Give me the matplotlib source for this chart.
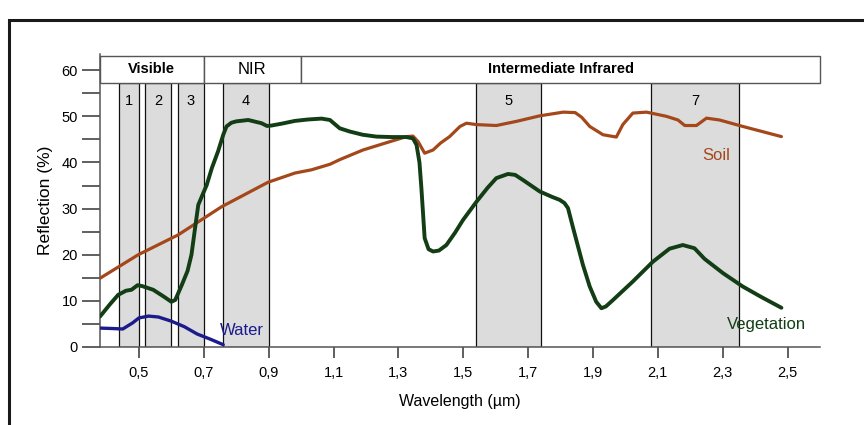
import matplotlib
matplotlib.use("Agg")
import matplotlib.pyplot as plt
from matplotlib.patches import Rectangle

plt.rcParams['font.family'] = ['Liberation Sans', 'DejaVu Sans']

# spectral curves (wavelength in µm, reflection in %)
veg_wl = [0.38, 0.41, 0.436, 0.46, 0.477, 0.496, 0.51, 0.544, 0.575, 0.60, 0.612,
          0.632, 0.65, 0.662, 0.673, 0.683, 0.695, 0.709, 0.725, 0.744, 0.760,
          0.770, 0.785, 0.80, 0.837, 0.878, 0.895, 0.909, 0.94, 0.981, 1.02,
          1.063, 1.089, 1.119, 1.15, 1.19, 1.232, 1.28, 1.325, 1.345, 1.356,
          1.365, 1.371, 1.381, 1.393, 1.407, 1.425, 1.448, 1.475, 1.499, 1.541,
          1.575, 1.602, 1.638, 1.66, 1.684, 1.736, 1.775, 1.797, 1.812, 1.823,
          1.838, 1.855, 1.869, 1.89, 1.91, 1.926, 1.94, 1.962, 2.023, 2.085,
          2.136, 2.177, 2.213, 2.244, 2.301, 2.362, 2.42, 2.481]
veg_refl = [6.6, 9.2, 11.3, 12.2, 12.4, 13.4, 13.2, 12.4, 11.0, 9.8, 10.2,
            13.4, 16.5, 20.0, 25.7, 30.8, 32.8, 35.1, 38.8, 42.4, 46.0,
            47.8, 48.6, 48.9, 49.2, 48.5, 47.9, 48.0, 48.4, 49.0, 49.3,
            49.5, 49.2, 47.4, 46.7, 46.0, 45.6, 45.5, 45.5, 45.2, 43.8,
            40.0, 34.4, 23.6, 21.2, 20.7, 20.9, 22.1, 24.8, 27.5, 31.5,
            34.5, 36.6, 37.5, 37.3, 36.2, 33.7, 32.5, 31.9, 31.2, 30.1,
            26.0, 21.5, 17.8, 13.1, 9.8, 8.4, 8.8, 10.2, 14.2, 18.5,
            21.3, 22.1, 21.4, 19.1, 16.0, 13.1, 10.8, 8.5]

soil_wl = [0.38, 0.498, 0.621, 0.755, 0.898, 0.981, 1.032, 1.089, 1.119, 1.191,
           1.26, 1.325, 1.345, 1.361, 1.381, 1.407, 1.43, 1.458, 1.49, 1.51,
           1.541, 1.602, 1.664, 1.736, 1.808, 1.845, 1.865, 1.89, 1.931, 1.972,
           1.992, 2.023, 2.065, 2.126, 2.162, 2.183, 2.219, 2.25, 2.29, 2.362, 2.481]
soil_refl = [14.9, 20.0, 24.3, 30.4, 35.7, 37.7, 38.4, 39.6, 40.6, 42.7,
             44.2, 45.6, 45.7, 44.5, 42.0, 42.7, 44.2, 45.6, 47.8, 48.5,
             48.2, 48.0, 48.9, 50.1, 50.9, 50.8, 49.8, 47.8, 46.0, 45.5,
             48.2, 50.7, 50.9, 50.0, 49.2, 48.0, 48.0, 49.6, 49.2, 47.8, 45.6]

water_wl = [0.38, 0.42, 0.45, 0.48, 0.50, 0.53, 0.56, 0.60, 0.64, 0.68, 0.72, 0.76]
water_refl = [4.1, 4.0, 3.9, 5.2, 6.3, 6.7, 6.5, 5.6, 4.4, 2.8, 1.7, 0.5]

# sensor bands
band_names = ['1', '2', '3', '4', '5', '7']
band_lo = [0.44, 0.52, 0.62, 0.76, 1.54, 2.08]
band_hi = [0.50, 0.60, 0.70, 0.90, 1.74, 2.35]

# spectral regions in the header
region_names = ['Visible', 'NIR', 'Intermediate Infrared']
region_lo = [0.38, 0.70, 1.00]
region_hi = [0.70, 1.00, 2.60]

x_ticks = [0.5, 0.7, 0.9, 1.1, 1.3, 1.5, 1.7, 1.9, 2.1, 2.3, 2.5]
x_labels = ['0,5', '0,7', '0,9', '1,1', '1,3', '1,5', '1,7', '1,9', '2,1', '2,3', '2,5']

fig = plt.figure(figsize=(8.64, 4.25), dpi=100)
ax = fig.add_axes([100/864, 1-347/425, 720/864, 293/425])
ymax = 63.5
hdr_lo, hdr_hi = 57.2, 63.1

for lo, hi, name in zip(band_lo, band_hi, band_names):
    ax.add_patch(Rectangle((lo, 0), hi-lo, hdr_lo, fc='#dcdcdc', ec='#111111', lw=0.9, zorder=1))
    ax.text((lo+hi)/2, 53.4, name, ha='center', va='center', fontsize=10.5, zorder=2)

for lo, hi, name in zip(region_lo, region_hi, region_names):
    ax.add_patch(Rectangle((lo, hdr_lo), hi-lo, hdr_hi-hdr_lo, fc='white', ec='#555555',
                           lw=1.0, zorder=1, clip_on=False))
    if name == 'NIR':
        ax.text((lo+hi)/2, (hdr_lo+hdr_hi)/2, name, ha='center', va='center', fontsize=12)
    else:
        ax.text((lo+hi)/2, (hdr_lo+hdr_hi)/2, name, ha='center', va='center',
                fontsize=10.5, fontweight='bold')

ax.plot(soil_wl, soil_refl, color='#a4481c', lw=2.3, zorder=3, solid_joinstyle='round',
        solid_capstyle='round')
ax.plot(veg_wl, veg_refl, color='#123d15', lw=2.8, zorder=4, solid_joinstyle='round',
        solid_capstyle='round')
ax.plot(water_wl, water_refl, color='#1b1b8c', lw=2.4, zorder=3, solid_joinstyle='round',
        solid_capstyle='round')

ax.text(2.28, 41.6, 'Soil', color='#a4481c', ha='center', va='center', fontsize=12)
ax.text(2.434, 4.8, 'Vegetation', color='#123d15', ha='center', va='center', fontsize=12)
ax.text(0.75, 3.5, 'Water', color='#1b1b8c', ha='left', va='center', fontsize=12)

ax.set_xlim(0.38, 2.6)
ax.set_ylim(0, ymax)
ax.set_xticks(x_ticks, labels=x_labels)
ax.set_yticks(range(0, 61, 10))
ax.set_yticks(range(5, 60, 10), minor=True)
ax.tick_params(axis='x', direction='out', length=8, width=1.2, color='#444444', labelsize=10.5, pad=6)
ax.tick_params(axis='y', which='both', direction='out', length=13, width=1.2, color='#444444',
               labelsize=10.5, pad=3)
for s in ['top', 'right']:
    ax.spines[s].set_visible(False)
for s in ['left', 'bottom']:
    ax.spines[s].set_color('#555555')
    ax.spines[s].set_linewidth(1.1)
ax.set_xlabel('Wavelength (µm)', fontsize=11.5, labelpad=10)
ax.set_ylabel('Reflection (%)', fontsize=12.5, labelpad=6)

# outer frame of the picture
fig.add_artist(Rectangle((9/864, -0.1), 1.2, 1-20/425+0.1, transform=fig.transFigure,
                         fill=False, ec='#1a1a1a', lw=2.2))

fig.savefig('out.png', dpi=100)
